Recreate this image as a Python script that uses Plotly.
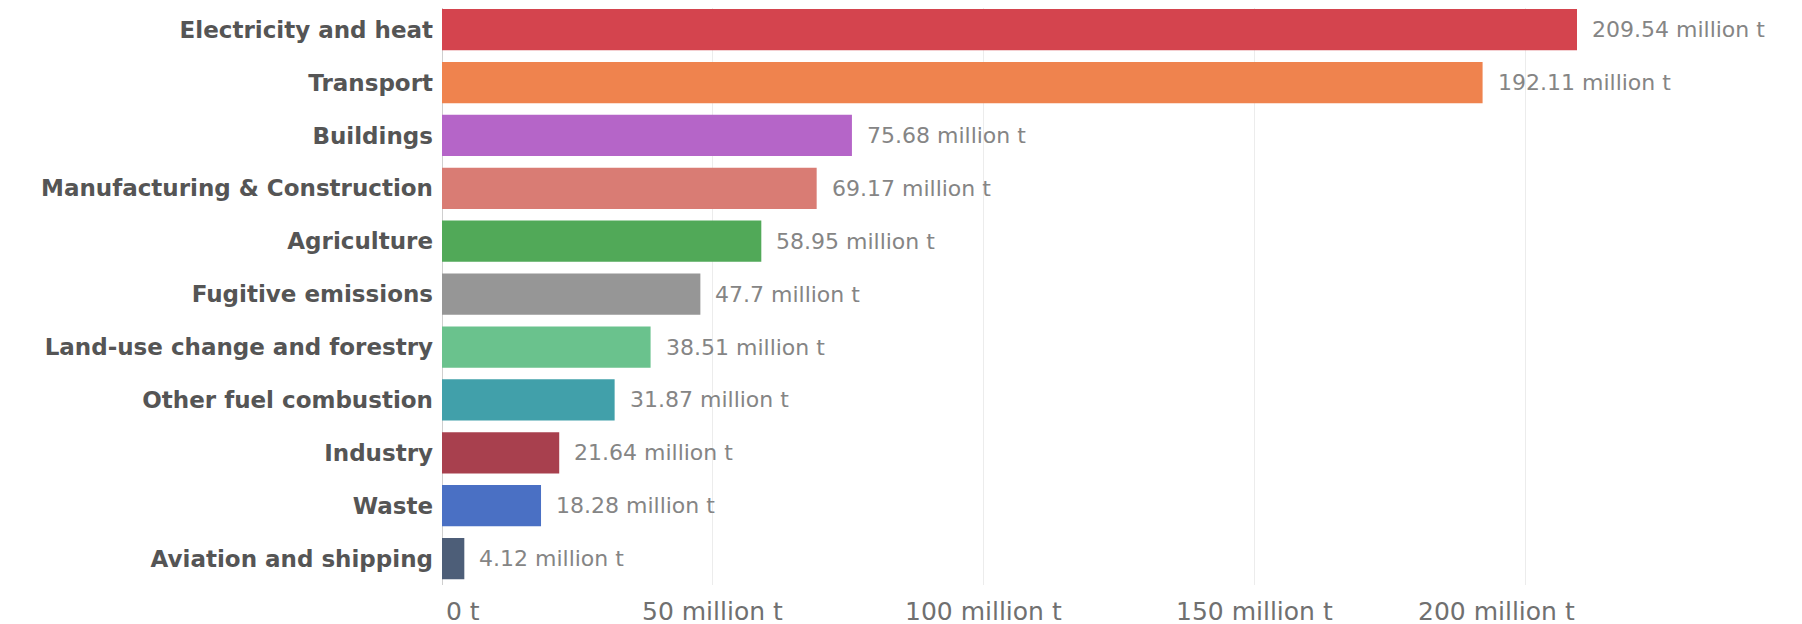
import plotly.graph_objects as go

categories = [
    "Electricity and heat", "Transport", "Buildings", "Manufacturing & Construction",
    "Agriculture", "Fugitive emissions", "Land-use change and forestry",
    "Other fuel combustion", "Industry", "Waste", "Aviation and shipping",
]
values_mt = [209.54, 192.11, 75.68, 69.17, 58.95, 47.7, 38.51, 31.87, 21.64, 18.28, 4.12]
colors = ["#D4444E", "#EF834E", "#B565C8", "#D97C74", "#51A958", "#969696",
          "#6AC28D", "#41A0AA", "#A8404E", "#4A70C4", "#4D5E78"]
tick_vals = [0, 50, 100, 150, 200]
tick_labels = ["0 t", "50 million t", "100 million t", "150 million t", "200 million t"]

FONT = "DejaVu Sans"
xmax = max(values_mt)
n = len(categories)

fig = go.Figure(go.Bar(
    x=values_mt, y=categories, orientation="h",
    marker=dict(color=colors, line=dict(width=0)),
    width=0.78, hoverinfo="skip",
))

annotations = []
for c, v in zip(categories, values_mt):
    annotations.append(dict(
        x=v, y=c, xref="x", yref="y", text=f"{v:g} million t", showarrow=False,
        xanchor="left", yanchor="middle", xshift=13,
        font=dict(family=FONT, size=22, color="#858585"),
    ))
for i, (tv, tl) in enumerate(zip(tick_vals, tick_labels)):
    if i == 0:
        xa, xpos, xs = "left", tv, 2
    elif tv + 25 > xmax:
        xa, xpos, xs = "right", xmax, 0
    else:
        xa, xpos, xs = "center", tv, 0
    annotations.append(dict(
        x=xpos, y=0, xref="x", yref="paper", text=tl, showarrow=False,
        xanchor=xa, yanchor="top", yshift=-10, xshift=xs,
        font=dict(family=FONT, size=25, color="#707070"),
    ))

fig.update_layout(
    width=1802, height=624,
    margin=dict(l=434, r=233, t=0, b=47),
    paper_bgcolor="white", plot_bgcolor="white",
    showlegend=False,
    annotations=annotations,
    xaxis=dict(
        range=[0, xmax], tickvals=tick_vals, showticklabels=False,
        showgrid=True, gridcolor="#ececec", gridwidth=1,
        zeroline=True, zerolinecolor="#cfcfcf", zerolinewidth=1,
        showline=False, fixedrange=True,
    ),
    yaxis=dict(
        range=[n - 0.5, -0.41], showgrid=False, zeroline=False, showline=False,
        ticks="", ticklabelstandoff=8,
        tickfont=dict(family=FONT, size=23, color="#555555", weight="bold"),
        fixedrange=True,
    ),
)

fig.write_html("out.html")
